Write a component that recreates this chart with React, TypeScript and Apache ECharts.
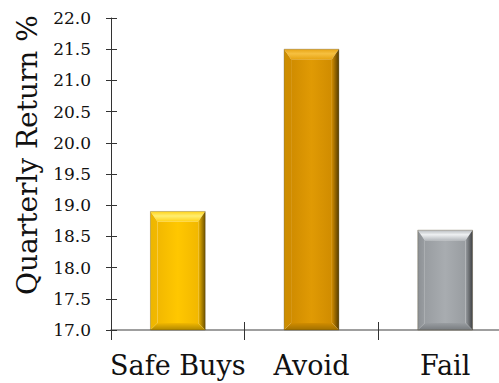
import React, { useEffect, useRef } from "react";
import * as echarts from "echarts";

const categories = ["Safe Buys", "Avoid", "Fail"];
const values = [18.9, 21.5, 18.6];
const yTicks = { min: 17, max: 22, interval: 0.5 };
const axisTitle = "Quarterly Return %";

type Pal = { face: string; faceEdge: string; top: string; topHi: string; left: string; right: string; bottom: string };
const palettes: Pal[] = [
  { face: "#FFC700", faceEdge: "#F2B800", top: "#FFD21A", topHi: "#FFEE70", left: "#EDB600", right: "#6E5200", bottom: "#B08800" },
  { face: "#E09A04", faceEdge: "#D08C00", top: "#E8A514", topHi: "#F6C040", left: "#CC8E00", right: "#553C00", bottom: "#A07000" },
  { face: "#A8ACB0", faceEdge: "#999DA1", top: "#B8BCC0", topHi: "#EEF0F2", left: "#8C9094", right: "#3E4043", bottom: "#777B7F" },
];

const FONT = "DejaVu Serif";

export default function App() {
  const ref = useRef<HTMLDivElement>(null);
  useEffect(() => {
    if (!ref.current) return;
    const chart = echarts.init(ref.current, undefined, { renderer: "svg" });
    const LG = echarts.graphic.LinearGradient;
    const renderItem = (params: any, api: any) => {
      const idx = params.dataIndex;
      const p = palettes[idx % palettes.length];
      const top = api.coord([api.value(0), api.value(1)]);
      const base = api.coord([api.value(0), yTicks.min]);
      const bw = api.size([1, 0])[0] * 0.41;
      const x0 = top[0] - bw / 2, x1 = top[0] + bw / 2, y0 = top[1], y1 = base[1];
      const t = 10, s = 7, b = 7;
      const xi0 = x0 + s, xi1 = x1 - s, yi0 = y0 + t, yi1 = y1 - b;
      return {
        type: "group",
        children: [
          {
            type: "rect",
            shape: { x: xi0, y: yi0, width: xi1 - xi0, height: yi1 - yi0 },
            style: { fill: new LG(0, 0, 1, 0, [{ offset: 0, color: p.faceEdge }, { offset: 0.5, color: p.face }, { offset: 1, color: p.faceEdge }]) },
          },
          {
            type: "polygon",
            shape: { points: [[x0, y0], [x1, y0], [xi1, yi0], [xi0, yi0]] },
            style: { fill: new LG(0, 0, 0, 1, [{ offset: 0, color: p.top }, { offset: 0.45, color: p.topHi }, { offset: 1, color: p.top }]) },
          },
          {
            type: "polygon",
            shape: { points: [[x0, y0], [xi0, yi0], [xi0, yi1], [x0, y1]] },
            style: { fill: new LG(0, 0, 1, 0, [{ offset: 0, color: p.left }, { offset: 1, color: p.faceEdge }]) },
          },
          {
            type: "polygon",
            shape: { points: [[x1, y0], [x1, y1], [xi1, yi1], [xi1, yi0]] },
            style: { fill: new LG(0, 0, 1, 0, [{ offset: 0, color: p.faceEdge }, { offset: 1, color: p.right }]) },
          },
          {
            type: "polygon",
            shape: { points: [[x0, y1], [xi0, yi1], [xi1, yi1], [x1, y1]] },
            style: { fill: new LG(0, 0, 0, 1, [{ offset: 0, color: p.faceEdge }, { offset: 1, color: p.bottom }]) },
          },
          {
            type: "rect",
            shape: { x: x0, y: y0, width: x1 - x0, height: y1 - y0 },
            style: { fill: "none", stroke: "rgba(60,45,0,0.35)", lineWidth: 0.8 },
          },
        ],
      };
    };
    const catAxisBase = {
      type: "category",
      data: categories,
      position: "bottom",
      offset: 0,
      boundaryGap: true,
    };
    chart.setOption({
      animation: false,
      backgroundColor: "#ffffff",
      grid: { left: 111, top: 18, width: 401, height: 312, containLabel: false },
      xAxis: [
        {
          ...catAxisBase,
          axisLine: { show: true, lineStyle: { color: "#808080", width: 1.5 } },
          axisTick: { show: true, inside: false, length: 10, lineStyle: { color: "#333" } },
          axisLabel: { fontFamily: FONT, fontSize: 27, color: "#111", margin: 22, interval: 0, hideOverlap: false },
        },
        {
          ...catAxisBase,
          axisLine: { show: false },
          axisTick: { show: true, inside: true, length: 8, lineStyle: { color: "#333" } },
          axisLabel: { show: false },
        },
      ],
      yAxis: [
        {
          type: "value",
          min: yTicks.min,
          max: yTicks.max,
          interval: yTicks.interval,
          position: "left",
          splitLine: { show: false },
          axisLine: { show: true, lineStyle: { color: "#333", width: 1 } },
          axisTick: { show: true, inside: false, length: 5, lineStyle: { color: "#333" } },
          axisLabel: { fontFamily: FONT, fontSize: 17, color: "#111", margin: 20, formatter: (v: number) => v.toFixed(1) },
        },
        {
          type: "value",
          min: yTicks.min,
          max: yTicks.max,
          interval: yTicks.interval,
          position: "left",
          offset: 0,
          splitLine: { show: false },
          axisLine: { show: false },
          axisTick: { show: true, inside: true, length: 6, lineStyle: { color: "#333" } },
          axisLabel: { show: false },
        },
      ],
      graphic: [
        {
          type: "text",
          x: 27,
          y: 155,
          rotation: Math.PI / 2,
          style: { text: axisTitle, fontFamily: FONT, fontSize: 28, fill: "#111", align: "center", verticalAlign: "middle" },
        },
      ],
      series: [
        {
          type: "custom",
          xAxisIndex: 0,
          yAxisIndex: 0,
          renderItem,
          data: categories.map((c, i) => [i, values[i]]),
          encode: { x: 0, y: 1 },
          clip: false,
        },
      ],
    });
    return () => chart.dispose();
  }, []);
  return (
    <div style={{ width: 499, height: 383, position: "absolute", left: 0, top: 0, overflow: "hidden" }}>
      <div ref={ref} style={{ width: 520, height: 383 }} />
    </div>
  );
}
